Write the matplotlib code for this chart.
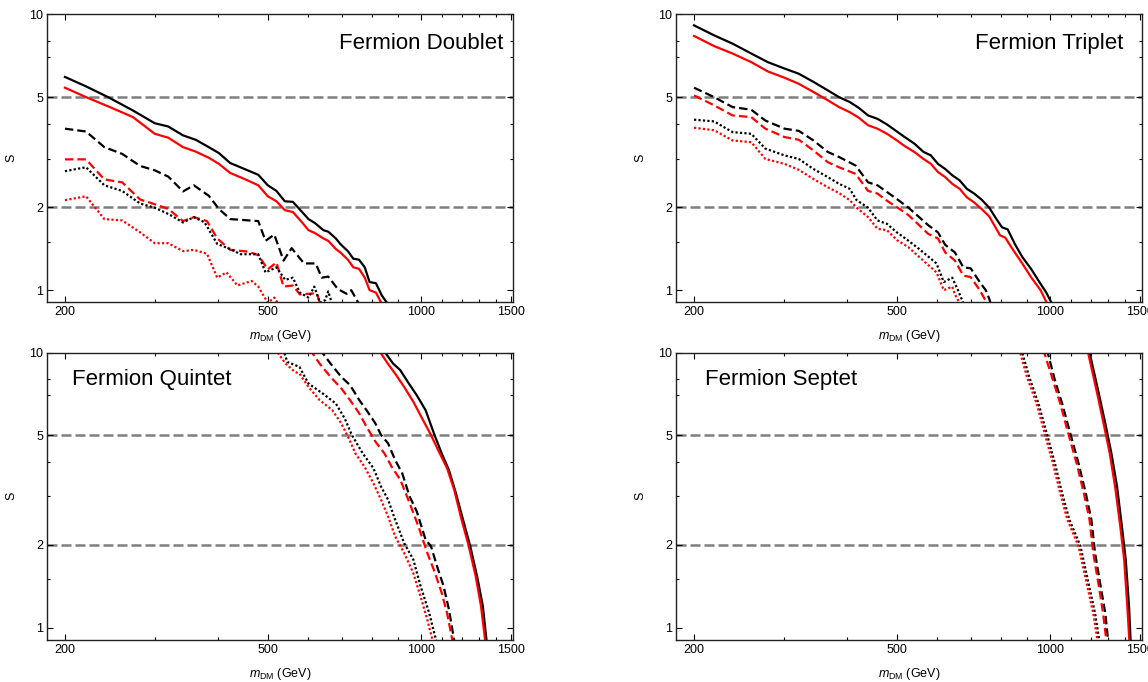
import numpy as np
import matplotlib
matplotlib.use("Agg")
import matplotlib.pyplot as plt
from matplotlib.ticker import NullFormatter

plt.rcParams.update({
    "font.family": ["Liberation Sans", "DejaVu Sans"],
    "mathtext.fontset": "custom",
    "mathtext.rm": "Liberation Sans",
    "mathtext.it": "Liberation Sans:italic",
    "font.size": 9,
})

# ---- Fermion Doublet ----
d_bk_solid_m = [200, 220, 243, 272, 300, 319, 341, 361, 383, 401, 422, 450, 479, 500, 520, 540, 560, 584, 601, 619,
                643, 657, 680, 694, 718, 736, 755, 775, 792, 815, 837, 864]
d_bk_solid_s = [5.93, 5.48, 5.01, 4.48, 4.03, 3.92, 3.64, 3.51, 3.30, 3.14, 2.89, 2.75, 2.62, 2.40, 2.29, 2.10, 2.09,
                1.92, 1.81, 1.75, 1.65, 1.63, 1.54, 1.47, 1.385, 1.30, 1.29, 1.21, 1.07, 1.06, 0.957, 0.88]
d_rd_solid_m = [200, 220, 243, 272, 300, 319, 341, 361, 383, 401, 422, 450, 479, 500, 520, 540, 560, 584, 601, 619,
                643, 657, 680, 694, 718, 736, 755, 775, 792, 815, 840]
d_rd_solid_s = [5.42, 5.01, 4.64, 4.24, 3.69, 3.57, 3.30, 3.18, 3.02, 2.87, 2.66, 2.53, 2.40, 2.19, 2.10, 1.95, 1.92,
                1.76, 1.65, 1.61, 1.54, 1.51, 1.41, 1.37, 1.29, 1.21, 1.195, 1.11, 1.00, 0.98, 0.88]
d_bk_dash_m = [200, 220, 239, 259, 281, 300, 319, 341, 358, 383, 401, 422, 479, 495, 515, 537, 557, 589, 621, 638,
               657, 686, 714, 729, 758]
d_bk_dash_s = [3.85, 3.76, 3.30, 3.12, 2.82, 2.72, 2.58, 2.28, 2.40, 2.20, 1.97, 1.81, 1.78, 1.51, 1.59, 1.28, 1.42,
               1.25, 1.25, 1.11, 1.12, 1.01, 0.97, 1.00, 0.88]
d_rd_dash_m = [200, 220, 239, 259, 281, 300, 319, 341, 358, 380, 398, 422, 457, 479, 500, 520, 537, 560, 578, 624, 635]
d_rd_dash_s = [2.98, 2.98, 2.52, 2.46, 2.13, 2.05, 1.97, 1.78, 1.84, 1.78, 1.54, 1.40, 1.38, 1.34, 1.19, 1.26, 1.03,
               1.04, 0.965, 0.975, 0.88]
d_bk_dot_m = [200, 220, 239, 259, 281, 300, 319, 341, 358, 376, 398, 422, 442, 479, 495, 520, 541, 560, 578, 601,
              617, 633, 648, 657, 670]
d_bk_dot_s = [2.70, 2.79, 2.40, 2.29, 2.06, 1.99, 1.89, 1.76, 1.84, 1.76, 1.47, 1.41, 1.35, 1.35, 1.16, 1.21, 1.09,
              1.11, 0.98, 0.94, 1.03, 0.90, 0.92, 0.99, 0.88]
d_rd_dot_m = [200, 220, 239, 259, 281, 300, 319, 341, 358, 380, 398, 415, 436, 465, 479, 500, 515, 526]
d_rd_dot_s = [2.12, 2.19, 1.81, 1.79, 1.62, 1.48, 1.48, 1.385, 1.40, 1.355, 1.11, 1.16, 1.04, 1.08, 1.03, 0.90, 0.94,
              0.88]

# ---- Fermion Triplet ----
t_bk_solid_m = [200, 219, 238, 259, 279, 301, 321, 343, 366, 385, 404, 421, 439, 458, 478, 500, 518, 541, 564, 583,
                602, 622, 642, 664, 686, 709, 733, 759, 784, 804, 825, 852, 881, 918, 949, 982, 1012]
t_bk_solid_s = [9.12, 8.39, 7.83, 7.21, 6.71, 6.36, 6.09, 5.69, 5.30, 5.01, 4.81, 4.58, 4.30, 4.18, 3.99, 3.76, 3.59,
                3.40, 3.17, 3.08, 2.87, 2.75, 2.61, 2.50, 2.33, 2.24, 2.13, 1.99, 1.81, 1.69, 1.66, 1.47, 1.32, 1.19,
                1.08, 0.98, 0.88]
t_rd_solid_m = [200, 219, 238, 259, 279, 301, 321, 343, 366, 385, 404, 421, 439, 458, 478, 500, 518, 541, 564, 583,
                602, 622, 642, 664, 686, 709, 733, 759, 797, 816, 845, 881, 918, 957, 990]
t_rd_solid_s = [8.35, 7.67, 7.21, 6.71, 6.21, 5.89, 5.60, 5.23, 4.88, 4.61, 4.42, 4.22, 3.96, 3.85, 3.69, 3.49, 3.33,
                3.17, 2.99, 2.87, 2.68, 2.57, 2.43, 2.33, 2.17, 2.08, 1.97, 1.85, 1.58, 1.55, 1.40, 1.25, 1.11, 1.00,
                0.88]
t_bk_dash_m = [200, 219, 238, 259, 276, 301, 321, 343, 366, 385, 415, 439, 458, 478, 500, 527, 553, 576, 602, 622,
               650, 675, 698, 727, 747, 759, 766]
t_bk_dash_s = [5.42, 5.01, 4.61, 4.51, 4.12, 3.85, 3.78, 3.49, 3.17, 3.04, 2.83, 2.46, 2.40, 2.27, 2.14, 1.99, 1.84,
               1.72, 1.62, 1.46, 1.37, 1.21, 1.20, 1.07, 1.00, 0.93, 0.88]
t_rd_dash_m = [200, 219, 238, 259, 276, 301, 321, 343, 366, 385, 415, 439, 458, 478, 500, 527, 553, 576, 602, 622,
               650, 675, 698, 727, 756]
t_rd_dash_s = [5.08, 4.68, 4.30, 4.24, 3.85, 3.59, 3.51, 3.21, 2.91, 2.79, 2.64, 2.29, 2.24, 2.11, 2.00, 1.87, 1.72,
               1.60, 1.54, 1.37, 1.28, 1.13, 1.115, 1.00, 0.88]
t_bk_dot_m = [200, 219, 238, 259, 276, 301, 321, 343, 366, 385, 404, 417, 439, 458, 478, 500, 527, 553, 583, 598,
              618, 642, 659, 678]
t_bk_dot_s = [4.15, 4.09, 3.74, 3.69, 3.26, 3.08, 2.99, 2.75, 2.57, 2.43, 2.33, 2.12, 1.99, 1.79, 1.74, 1.62, 1.51,
              1.41, 1.30, 1.25, 1.07, 1.11, 1.00, 0.88]
t_rd_dot_m = [200, 219, 238, 259, 276, 301, 321, 343, 366, 385, 404, 417, 439, 458, 478, 500, 527, 553, 583, 598,
              618, 642, 651, 668]
t_rd_dot_s = [3.88, 3.80, 3.49, 3.44, 2.99, 2.87, 2.73, 2.53, 2.36, 2.25, 2.12, 1.99, 1.84, 1.67, 1.65, 1.52, 1.43,
              1.32, 1.21, 1.16, 1.00, 1.03, 0.96, 0.88]

# ---- Fermion Quintet ----
q_bk_solid_m = [840, 881, 910, 941, 980, 1020, 1062, 1097, 1133, 1170, 1208, 1248, 1289, 1321, 1345]
q_bk_solid_s = [10.3, 9.12, 8.63, 7.83, 7.00, 6.18, 5.02, 4.30, 3.75, 3.08, 2.47, 1.98, 1.52, 1.20, 0.88]
q_rd_solid_m = [823, 860, 889, 926, 965, 1004, 1045, 1079, 1124, 1161, 1198, 1238, 1279, 1310, 1337]
q_rd_solid_s = [10.3, 9.12, 8.39, 7.50, 6.63, 5.77, 5.02, 4.43, 3.80, 3.17, 2.50, 2.00, 1.54, 1.20, 0.88]
q_bk_dash_m = [632, 664, 697, 725, 756, 781, 813, 834, 861, 889, 918, 949, 980, 1020, 1045, 1079, 1106, 1133, 1163]
q_bk_dash_s = [10.3, 9.12, 8.16, 7.62, 6.72, 6.18, 5.53, 5.02, 4.68, 4.07, 3.64, 3.00, 2.65, 2.09, 1.98, 1.63, 1.42,
               1.17, 0.88]
q_rd_dash_m = [604, 632, 664, 697, 725, 756, 781, 813, 847, 875, 910, 949, 988, 1028, 1062, 1097, 1124, 1154]
q_rd_dash_s = [10.3, 9.12, 8.16, 7.41, 6.72, 6.01, 5.38, 4.75, 4.30, 3.85, 3.45, 2.84, 2.33, 1.87, 1.60, 1.34, 1.13,
               0.88]
q_bk_dot_m = [536, 546, 577, 601, 641, 680, 708, 731, 768, 806, 834, 861, 889, 926, 965, 997, 1037, 1073]
q_bk_dot_s = [10.3, 9.25, 8.87, 7.72, 7.10, 6.53, 5.76, 5.02, 4.30, 3.80, 3.26, 2.92, 2.47, 2.03, 1.77, 1.42, 1.13,
              0.88]
q_rd_dot_m = [517, 542, 565, 577, 601, 632, 669, 697, 721, 743, 774, 806, 834, 861, 889, 926, 965, 997, 1028, 1056]
q_rd_dot_s = [10.3, 9.12, 8.51, 8.39, 7.50, 6.72, 6.18, 5.53, 4.88, 4.30, 3.85, 3.35, 2.92, 2.54, 2.15, 1.87, 1.58,
              1.30, 1.07, 0.88]

# ---- Fermion Septet ----
sep_s = [10.3, 7.10, 5.38, 4.30, 3.26, 2.33, 1.77, 1.20, 0.88]
s_bk_solid_m = [1190, 1245, 1286, 1318, 1352, 1382, 1406, 1427, 1438]
s_rd_solid_m = [1182, 1236, 1276, 1308, 1340, 1372, 1396, 1416, 1430]
sep_dash_s = [10.3, 7.94, 6.53, 5.23, 3.96, 3.08, 2.47, 1.87, 1.42, 1.13, 0.88]
s_bk_dash_m = [984, 1021, 1055, 1090, 1136, 1174, 1204, 1224, 1255, 1282, 1300]
s_rd_dash_m = [968, 1012, 1046, 1080, 1126, 1164, 1194, 1214, 1245, 1269, 1290]
sep_dot_s = [10.3, 8.16, 6.53, 5.23, 3.96, 3.08, 2.47, 1.98, 1.50, 1.13, 0.88]
s_bk_dot_m = [877, 909, 948, 980, 1021, 1055, 1090, 1146, 1184, 1224, 1250]
s_rd_dot_m = [869, 900, 940, 971, 1012, 1046, 1080, 1136, 1174, 1214, 1240]

TITLES = ["Fermion Doublet", "Fermion Triplet", "Fermion Quintet", "Fermion Septet"]
THRESHOLDS = [2, 5]
X_MAJOR = [200, 500, 1000, 1500]
X_MINOR = [300, 400, 600, 700, 800, 900, 1100, 1200, 1300, 1400]
Y_MAJOR = [1, 2, 5, 10]
Y_MINOR = [1.5, 3, 4, 7, 8]

DASH = (0, (3.8, 1.8))
DOT = (0, (1.0, 1.0))
GREY_DASH = (0, (4.0, 1.6))

panels = [
    [(d_bk_solid_m, d_bk_solid_s, "k", "-"), (d_rd_solid_m, d_rd_solid_s, "r", "-"),
     (d_bk_dash_m, d_bk_dash_s, "k", DASH), (d_rd_dash_m, d_rd_dash_s, "r", DASH),
     (d_bk_dot_m, d_bk_dot_s, "k", DOT), (d_rd_dot_m, d_rd_dot_s, "r", DOT)],
    [(t_bk_solid_m, t_bk_solid_s, "k", "-"), (t_rd_solid_m, t_rd_solid_s, "r", "-"),
     (t_bk_dash_m, t_bk_dash_s, "k", DASH), (t_rd_dash_m, t_rd_dash_s, "r", DASH),
     (t_bk_dot_m, t_bk_dot_s, "k", DOT), (t_rd_dot_m, t_rd_dot_s, "r", DOT)],
    [(q_bk_solid_m, q_bk_solid_s, "k", "-"), (q_rd_solid_m, q_rd_solid_s, "r", "-"),
     (q_bk_dash_m, q_bk_dash_s, "k", DASH), (q_rd_dash_m, q_rd_dash_s, "r", DASH),
     (q_bk_dot_m, q_bk_dot_s, "k", DOT), (q_rd_dot_m, q_rd_dot_s, "r", DOT)],
    [(s_bk_solid_m, sep_s, "k", "-"), (s_rd_solid_m, sep_s, "r", "-"),
     (s_bk_dash_m, sep_dash_s, "k", DASH), (s_rd_dash_m, sep_dash_s, "r", DASH),
     (s_bk_dot_m, sep_dot_s, "k", DOT), (s_rd_dot_m, sep_dot_s, "r", DOT)],
]

# axes rectangles (figure fraction) and label placement
rects = [[0.041, 0.557, 0.406, 0.422], [0.589, 0.557, 0.406, 0.422],
         [0.041, 0.062, 0.406, 0.421], [0.589, 0.062, 0.406, 0.421]]
label_pos = [(0.979, 0.9, "right"), (0.959, 0.9, "right"), (0.054, 0.906, "left"), (0.062, 0.906, "left")]

fig = plt.figure(figsize=(11.48, 6.82), dpi=100)
for rect, curves, title, (tx, ty, ha) in zip(rects, panels, TITLES, label_pos):
    ax = fig.add_axes(rect)
    ax.set_xscale("log"); ax.set_yscale("log")
    for y in THRESHOLDS:
        ax.axhline(y, color="#7f7f7f", lw=1.8, ls=GREY_DASH, zorder=1)
    for m, s, c, ls in curves:
        ax.plot(m, s, color=c, ls=ls, lw=1.6, zorder=2)
    ax.set_xlim(184.5, 1515); ax.set_ylim(0.905, 10)
    ax.set_xticks(X_MAJOR); ax.set_xticklabels([str(v) for v in X_MAJOR])
    ax.set_xticks(X_MINOR, minor=True); ax.xaxis.set_minor_formatter(NullFormatter())
    ax.set_yticks(Y_MAJOR); ax.set_yticklabels([str(v) for v in Y_MAJOR])
    ax.set_yticks(Y_MINOR, minor=True); ax.yaxis.set_minor_formatter(NullFormatter())
    ax.tick_params(which="both", direction="in", top=True, right=True, width=0.8, labelsize=9, pad=3)
    ax.tick_params(which="major", length=4.5)
    ax.tick_params(which="minor", length=2.5)
    for sp in ax.spines.values():
        sp.set_linewidth(1.0); sp.set_color("#222222")
    ax.set_xlabel(r"$m_{\mathrm{DM}}$ (GeV)", fontsize=9, labelpad=7)
    ax.set_ylabel("S", fontsize=9, labelpad=8)
    ax.text(tx, ty, title, transform=ax.transAxes, ha=ha, va="center", fontsize=16)

fig.savefig("out.png", dpi=100)
